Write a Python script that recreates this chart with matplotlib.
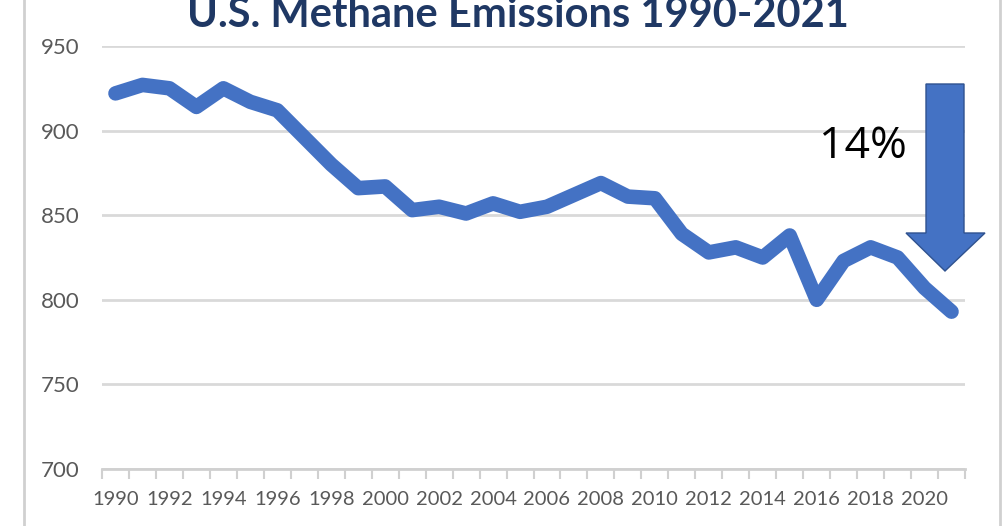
import matplotlib
matplotlib.use("Agg")
import matplotlib.pyplot as plt
from matplotlib.lines import Line2D
from matplotlib.patches import Polygon

years = list(range(1990, 2022))
emissions = [922, 927, 925, 914, 925, 917, 912, 896, 880, 866,
             867, 853, 855, 851, 857, 852, 855, 862, 869, 861,
             860, 839, 828, 831, 825, 838, 800, 823, 831, 825,
             807, 793]
tick_labels = [str(y) for y in years[::2]]

FONT = ["Lato", "DejaVu Sans"]

W, H = 1008, 526
fig = plt.figure(figsize=(W / 100, H / 100), dpi=100)
ax = fig.add_axes([102 / W, 1 - 469 / H, (965 - 102) / W, (469 - 46) / H])

idx = list(range(len(years)))
ax.plot(idx, emissions, color="#4472C4", lw=10.5, solid_capstyle="round",
        solid_joinstyle="round", zorder=3)

ax.set_xlim(-0.5, len(years) - 0.5)
ax.set_ylim(700, 950)
ax.set_yticks([700, 750, 800, 850, 900, 950])
ax.yaxis.grid(True, color="#D9D9D9", lw=2)
ax.set_axisbelow(True)
for s in ["top", "right", "left"]:
    ax.spines[s].set_visible(False)
ax.spines["bottom"].set_color("#D0D0D0")
ax.spines["bottom"].set_linewidth(2)

ax.set_xticks(idx[::2])
ax.set_xticklabels(tick_labels)
ax.set_xticks([i - 0.5 for i in range(len(years) + 1)], minor=True)
ax.tick_params(axis="x", which="major", length=0, pad=16,
               labelsize=14.5, labelcolor="#595959")
ax.tick_params(axis="x", which="minor", length=7, color="#D0D0D0", width=1.5)
ax.tick_params(axis="y", length=0, pad=16, labelsize=16, labelcolor="#595959")
for lab in ax.get_xticklabels() + ax.get_yticklabels():
    lab.set_family(FONT)

# title, partially cut by the top edge
fig.text(518 / W, 1 - 27 / H, "U.S. Methane Emissions 1990-2021",
         ha="center", va="baseline", fontsize=30, fontweight="bold",
         color="#1F3864", family=FONT)

# side border lines
fig.add_artist(Line2D([24 / W, 24 / W], [0, 1], color="#D0D0D0", lw=2))
fig.add_artist(Line2D([1000 / W, 1000 / W], [0, 1], color="#D0D0D0", lw=2))

# down arrow
pts = [(926, 84), (964, 84), (964, 233), (985, 233), (945, 271),
       (906, 233), (926, 233)]
arrow = Polygon([(x / W, 1 - y / H) for x, y in pts], closed=True,
                transform=fig.transFigure, facecolor="#4472C4",
                edgecolor="#2F528F", lw=1, zorder=5)
fig.add_artist(arrow)
fig.text(863 / W, 1 - 147 / H, "14%", ha="center", va="center",
         fontsize=32, color="black", family=["Open Sans", "DejaVu Sans"])

fig.savefig("out.png", dpi=100)
